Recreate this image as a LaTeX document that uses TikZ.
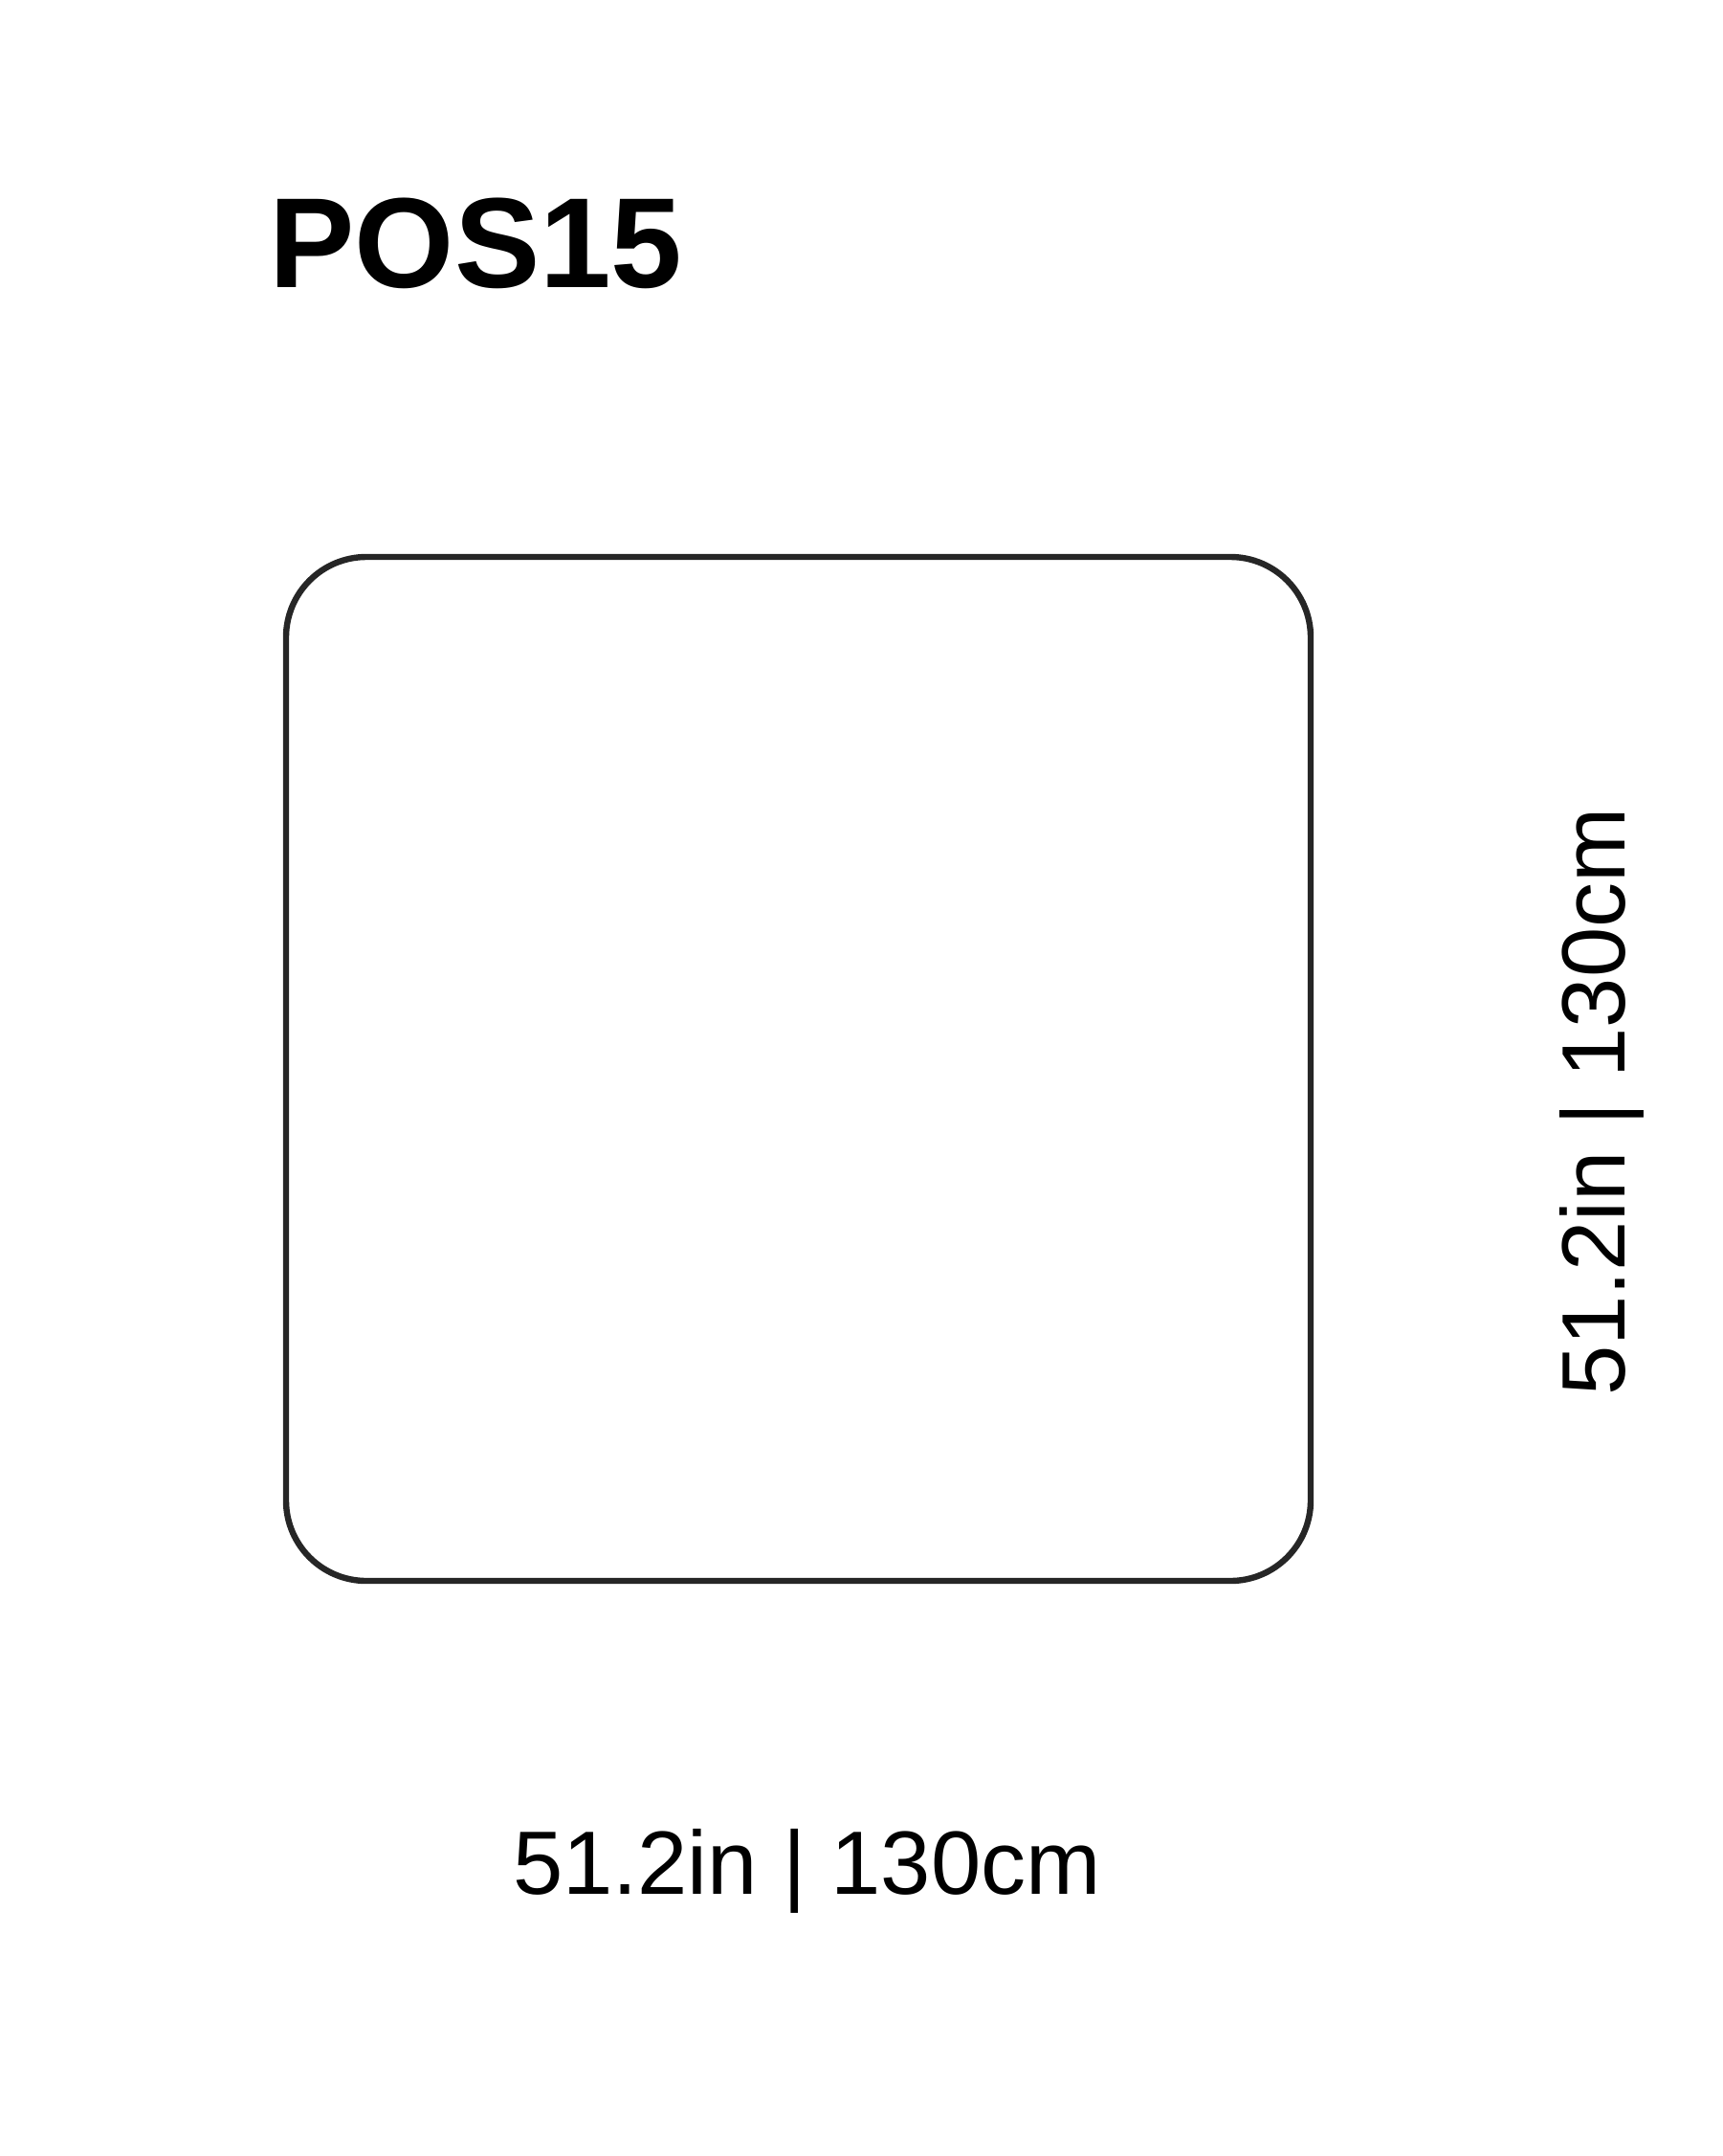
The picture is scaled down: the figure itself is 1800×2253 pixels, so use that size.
\documentclass[tikz,border=0pt]{standalone}
\usepackage{fontspec}
\setmainfont{Liberation Sans}
\definecolor{boxline}{HTML}{262626}
\begin{document}
\begin{tikzpicture}[x=0.5pt,y=-0.5pt,
  titletext/.style={inner sep=0pt,anchor=base west,font=\fontsize{67pt}{80pt}\selectfont\bfseries},
  dimtext/.style={inner sep=0pt,anchor=base,font=\fontsize{47pt}{56pt}\selectfont},
  plate/.style={draw=boxline,line width=3.2pt,rounded corners=42pt,minimum width=535.5pt,minimum height=535pt,inner sep=0pt}]
\useasboundingbox (0,0) rectangle (1800,2253);
\node[titletext] (title) at (281,300.7) {POS15};
\node[plate] (box) at (834.5,1117) {};
\node[dimtext] (wlabel) at (843.5,1979) {51.2in | 130cm};
\node[dimtext,rotate=90] (hlabel) at (1698,1151.5) {51.2in | 130cm};
\end{tikzpicture}
\end{document}
